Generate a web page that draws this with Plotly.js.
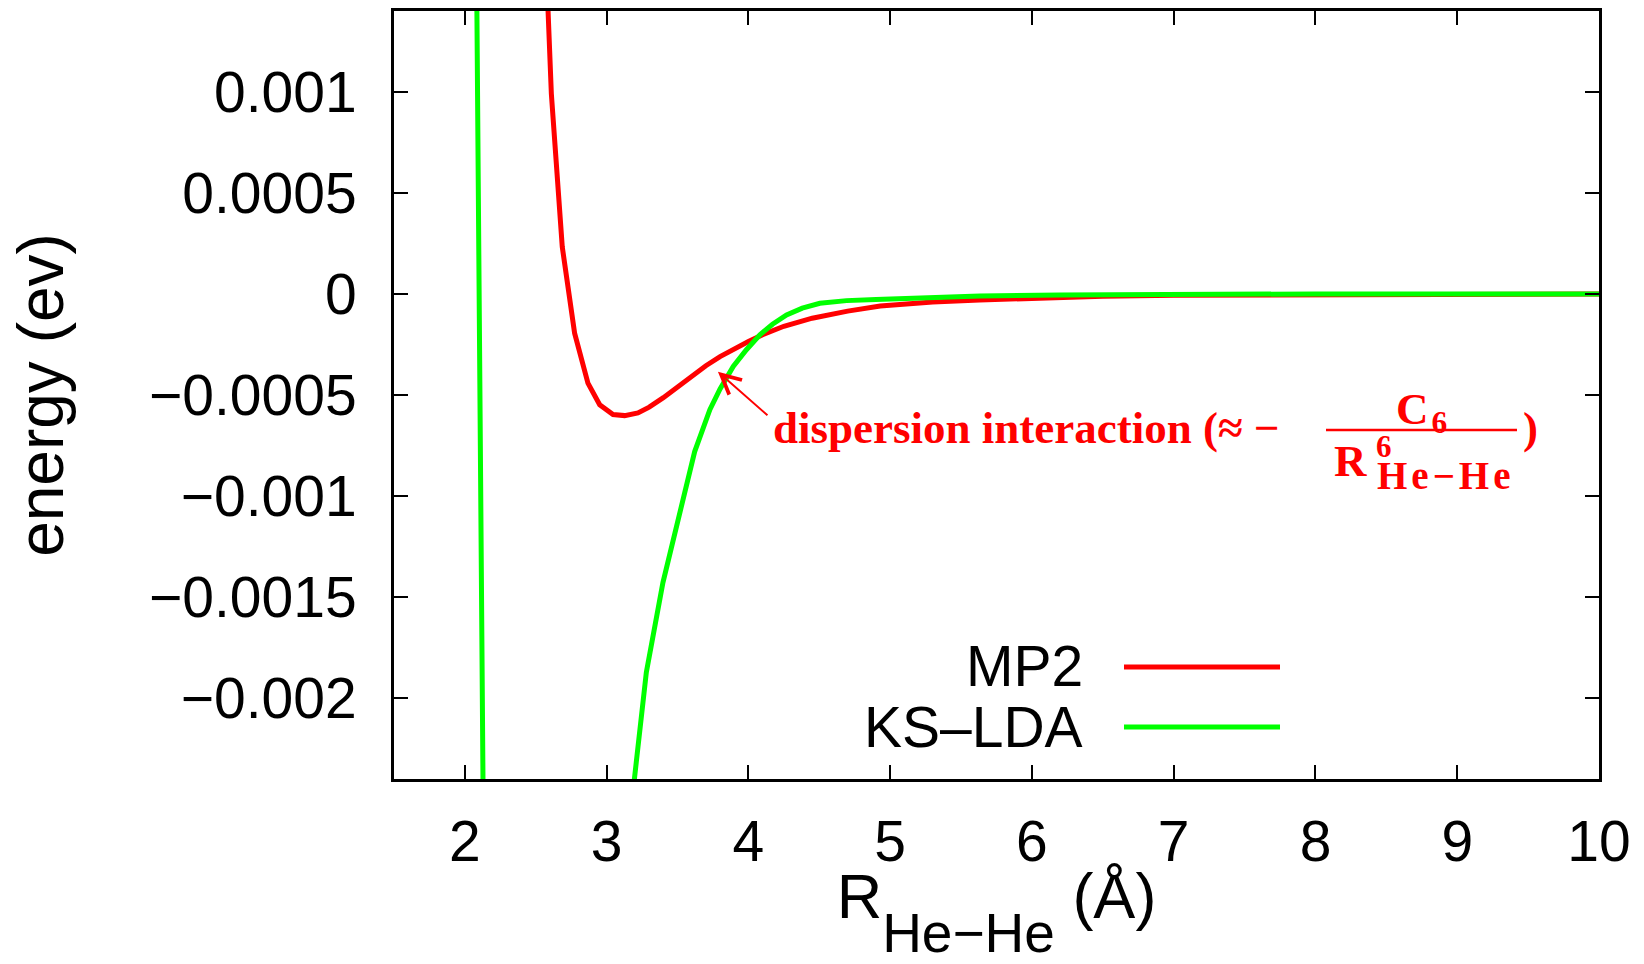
<!DOCTYPE html>
<html>
<head>
<meta charset="utf-8">
<script src="https://cdn.plot.ly/plotly-3.0.1.min.js"></script>
<style>
  html, body { margin: 0; padding: 0; background: #ffffff; }
  #chart { width: 1644px; height: 964px; }
</style>
</head>
<body>
<div id="chart"></div>
<script>
// ---- data ----
const seriesNames = ["MP2", "KS\u2013LDA"];

const mp2X = [2.53, 2.61, 2.687, 2.774, 2.868, 2.951, 3.045, 3.127, 3.221, 3.30, 3.40, 3.50, 3.60, 3.70, 3.80, 3.90, 4.00, 4.10, 4.25, 4.45, 4.70, 4.93, 5.30, 5.63, 6.00, 6.50, 7.00, 8.00, 9.00, 10.0];
const mp2Y = [0.00240, 0.00099, 0.000233, -0.000194, -0.000441, -0.000548, -0.000597, -0.000602, -0.000589, -0.000560, -0.000513, -0.000458, -0.000405, -0.000355, -0.000310, -0.000270, -0.000235, -0.000202, -0.000160, -0.000120, -0.000085, -0.000060, -0.000040, -0.000030, -0.000020, -0.000012, -0.000007, -0.000003, -0.000001, 0];

const ksX = [2.00, 2.20, 3.10, 3.197, 3.28, 3.397, 3.48, 3.538, 3.621, 3.728, 3.80, 3.893, 3.986, 4.081, 4.17, 4.269, 4.38, 4.504, 4.692, 4.90, 5.162, 5.633, 6.20, 7.00, 8.00, 10.0];
const ksY = [0.0089, -0.0088, -0.0030, -0.0024, -0.001872, -0.001428, -0.001183, -0.001010, -0.00078, -0.000573, -0.00047, -0.000359, -0.000276, -0.000202, -0.00015, -0.000104, -0.00007, -0.000046, -0.000033, -0.000027, -0.000021, -0.00001, -0.000005, -0.000002, 0, 0];

const xTickVals = [2, 3, 4, 5, 6, 7, 8, 9, 10];
const xTickText = ["2", "3", "4", "5", "6", "7", "8", "9", "10"];
const yTickVals = [-0.002, -0.0015, -0.001, -0.0005, 0, 0.0005, 0.001];
const yTickText = ["\u22120.002", "\u22120.0015", "\u22120.001", "\u22120.0005", "0", "0.0005", "0.001"];

const xRange = [1.5, 10];
const yRange = [-0.0024, 0.0014];

// arrow of the annotation (tip and tail, data units)
const arrowTip = [3.785, -0.000385];
const arrowTail = [4.145, -0.000607];

// ---- layout helpers (pixel -> paper) ----
const W = 1644, H = 964;
const M = { l: 394, r: 45, t: 11, b: 185 };
const PW = W - M.l - M.r, PH = H - M.t - M.b;
const px = X => (X - M.l) / PW;
const py = Y => (H - M.b - Y) / PH;

const RED = "#ff0000", GREEN = "#00ff00";
const SANS = "Liberation Sans, Arial, Helvetica, sans-serif";
const SERIF = "Liberation Serif, Times New Roman, serif";

const traces = [
  { x: mp2X, y: mp2Y, type: "scatter", mode: "lines", name: seriesNames[0],
    line: { color: RED, width: 5 }, showlegend: false },
  { x: ksX, y: ksY, type: "scatter", mode: "lines", name: seriesNames[1],
    line: { color: GREEN, width: 5 }, showlegend: false }
];

const annFont = (s) => ({ family: SERIF, size: s, color: RED, weight: "bold" });

const annotations = [
  // arrow
  { x: arrowTip[0], y: arrowTip[1], xref: "x", yref: "y",
    ax: arrowTail[0], ay: arrowTail[1], axref: "x", ayref: "y",
    text: "", showarrow: true, arrowhead: 5, arrowsize: 1.9, arrowwidth: 2,
    arrowcolor: RED, standoff: 0, startstandoff: 0 },
  // main text
  { x: px(771), y: py(428), xref: "paper", yref: "paper", xanchor: "left", yanchor: "middle",
    text: "dispersion interaction (\u2248 \u2212", showarrow: false, font: annFont(45) },
  // numerator
  { x: px(1421), y: py(412), xref: "paper", yref: "paper", xanchor: "center", yanchor: "middle",
    text: '<span style="letter-spacing:3px">C</span><sub>6</sub>', showarrow: false, font: annFont(45) },
  // denominator
  { x: px(1350), y: py(461), xref: "paper", yref: "paper", xanchor: "center", yanchor: "middle",
    text: "R", showarrow: false, font: annFont(45) },
  { x: px(1384), y: py(446), xref: "paper", yref: "paper", xanchor: "center", yanchor: "middle",
    text: "6", showarrow: false, font: annFont(31) },
  { x: px(1446), y: py(475), xref: "paper", yref: "paper", xanchor: "center", yanchor: "middle",
    text: '<span style="letter-spacing:4px">He\u2212He</span>', showarrow: false, font: annFont(39) },
  { x: px(1530), y: py(428), xref: "paper", yref: "paper", xanchor: "center", yanchor: "middle",
    text: ")", showarrow: false, font: annFont(45) },
  // legend texts
  { x: px(1085), y: py(666), xref: "paper", yref: "paper", xanchor: "right", yanchor: "middle",
    text: seriesNames[0], showarrow: false, font: { family: SANS, size: 57, color: "#000" } },
  { x: px(1085), y: py(727), xref: "paper", yref: "paper", xanchor: "right", yanchor: "middle",
    text: seriesNames[1], showarrow: false, font: { family: SANS, size: 57, color: "#000" } }
];

const shapes = [
  // fraction bar
  { type: "line", xref: "paper", yref: "paper", x0: px(1326), x1: px(1517), y0: py(430), y1: py(430),
    line: { color: RED, width: 2.5 } },
  // legend samples
  { type: "line", xref: "paper", yref: "paper", x0: px(1124), x1: px(1280), y0: py(667), y1: py(667),
    line: { color: RED, width: 5 } },
  { type: "line", xref: "paper", yref: "paper", x0: px(1124), x1: px(1280), y0: py(727), y1: py(727),
    line: { color: GREEN, width: 5 } }
];

const axisCommon = {
  ticks: "inside", ticklen: 14, tickwidth: 2, tickcolor: "#000",
  showline: true, linewidth: 3, linecolor: "#000", mirror: "ticks",
  showgrid: false, zeroline: false,
  tickfont: { family: SANS, size: 57, color: "#000" }
};

const layout = {
  width: W, height: H,
  margin: { l: M.l, r: M.r, t: M.t, b: M.b, pad: 0 },
  paper_bgcolor: "#fff", plot_bgcolor: "#fff",
  showlegend: false,
  xaxis: Object.assign({}, axisCommon, {
    range: xRange, tickmode: "array", tickvals: xTickVals, ticktext: xTickText,
    ticklabelstandoff: 11,
    title: { text: 'R<span style="font-size:55px;baseline-shift:-34px">He\u2212He</span> (\u00c5)',
             font: { family: SANS, size: 63, color: "#000" }, standoff: 43 }
  }),
  yaxis: Object.assign({}, axisCommon, {
    range: yRange, tickmode: "array", tickvals: yTickVals, ticktext: yTickText,
    ticklabelstandoff: 23,
    title: { text: "energy (ev)", font: { family: SANS, size: 64, color: "#000" }, standoff: 65 }
  }),
  annotations: annotations,
  shapes: shapes
};

Plotly.newPlot("chart", traces, layout, { staticPlot: true, displayModeBar: false });
</script>
</body>
</html>
